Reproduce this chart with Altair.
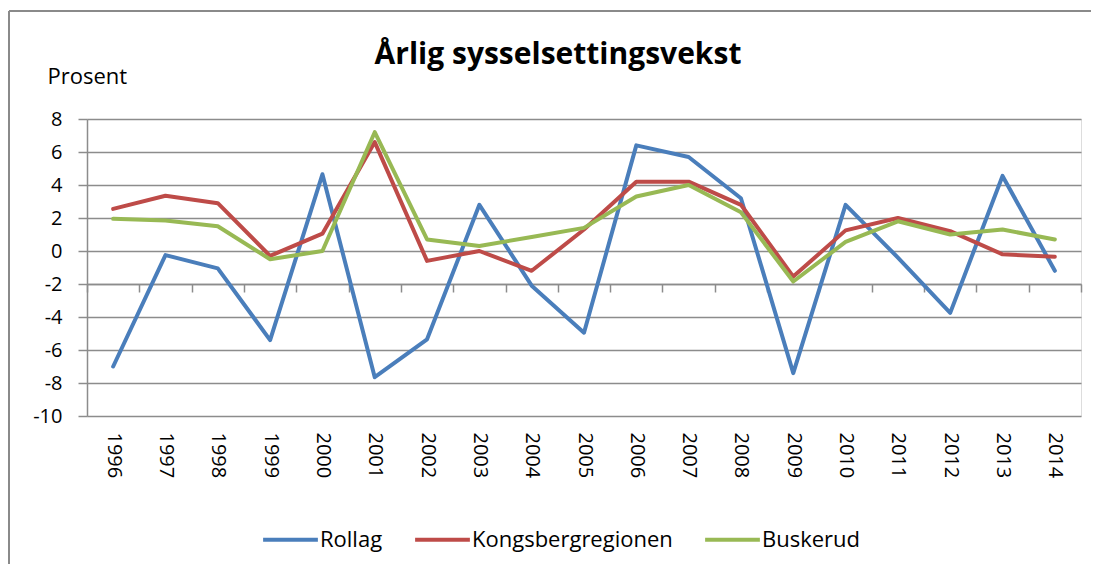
import altair as alt
import pandas as pd

title_text = "Årlig sysselsettingsvekst"
years = list(range(1996, 2015))
rollag = [-7.0, -0.25, -1.05, -5.4, 4.65, -7.65, -5.35, 2.8, -2.1, -4.95, 6.4, 5.7, 3.2, -7.4, 2.8, -0.4, -3.75, 4.55, -1.2]
kongsberg = [2.55, 3.35, 2.9, -0.3, 1.05, 6.6, -0.6, 0.0, -1.2, 1.3, 4.2, 4.2, 2.8, -1.55, 1.25, 2.0, 1.2, -0.2, -0.35]
buskerud = [1.95, 1.85, 1.5, -0.5, 0.0, 7.2, 0.7, 0.3, 0.85, 1.4, 3.3, 4.0, 2.35, -1.85, 0.55, 1.8, 1.0, 1.3, 0.7]
series = ["Rollag", "Kongsbergregionen", "Buskerud"]
colors = ["#4a7ebb", "#be4b48", "#98b954"]
y_ticks = list(range(-10, 9, 2))
boundaries = [y - 0.5 for y in years] + [years[-1] + 0.5]

rows = []
for name, vals in zip(series, [rollag, kongsberg, buskerud]):
    for yr, v in zip(years, vals):
        rows.append({"year": yr, "value": v, "series": name})
df = pd.DataFrame(rows)

FONT = "Open Sans"
GRID = "#8c8c8c"
W, H = 994, 297

xscale = alt.Scale(domain=[years[0] - 0.5, years[-1] + 0.5], nice=False, zero=False)
yscale = alt.Scale(domain=[-10, 8], nice=False, zero=False)

one = pd.DataFrame({"a": [0]})
frame_top = alt.Chart(one).mark_rule(stroke="#8a8a8a", strokeWidth=2).encode(
    x=alt.value(-78), x2=alt.value(1004), y=alt.value(-108))
frame_left = alt.Chart(one).mark_rule(stroke="#8a8a8a", strokeWidth=2).encode(
    x=alt.value(-78), y=alt.value(-108), y2=alt.value(460))
title = alt.Chart(one).mark_text(
    font=FONT, fontSize=30, fontWeight="bold", color="#000", align="center", baseline="alphabetic"
).encode(text=alt.value(title_text), x=alt.value(471), y=alt.value(-55))

zero_axis = alt.Chart(pd.DataFrame({"b": boundaries})).mark_point(opacity=0).encode(
    x=alt.X("b:Q", scale=xscale, axis=alt.Axis(
        orient="bottom", values=boundaries, labels=False, title=None, grid=False,
        domain=True, domainColor=GRID, domainWidth=1.5,
        ticks=True, tickColor=GRID, tickWidth=1.5, tickSize=8,
        offset=-(H - 10 * H / 18))),
)

lines = alt.Chart(df).mark_line(strokeWidth=4, strokeCap="round", strokeJoin="round").encode(
    x=alt.X("year:Q", scale=xscale, axis=alt.Axis(
        orient="bottom", values=years, format="d", labelAngle=90, labelFontSize=20, labelFont=FONT,
        labelColor="#000", labelPadding=16, ticks=False, domain=False, grid=False, title=None)),
    y=alt.Y("value:Q", scale=yscale, axis=alt.Axis(
        values=y_ticks, labelExpr="toString(datum.value)", labelFontSize=20, labelFont=FONT,
        labelColor="#000", labelPadding=16, tickSize=9, tickColor=GRID, tickWidth=1.5,
        domainColor=GRID, domainWidth=1.5, gridColor=GRID, gridWidth=1.5,
        title="Prosent", titleAngle=0, titleFont=FONT, titleFontSize=22,
        titleFontWeight="normal", titleColor="#000", titleAlign="left",
        titleBaseline="alphabetic", titleX=-40, titleY=-36)),
    color=alt.Color("series:N", sort=series,
                    scale=alt.Scale(domain=series, range=colors),
                    legend=alt.Legend(orient="none", legendX=174, legendY=391, direction="horizontal",
                                      title=None, symbolType="stroke", symbolSize=3000,
                                      symbolStrokeWidth=4, labelFont=FONT, labelFontSize=22,
                                      labelLimit=400, labelColor="#000", labelOffset=0,
                                      columnPadding=24)),
    order=alt.Order("year:Q"),
)

chart = alt.layer(frame_top, frame_left, title, zero_axis, lines).resolve_axis(x="independent").properties(
    width=W, height=H,
    autosize=alt.AutoSizeParams(type="none"),
    padding={"left": 79, "top": 111, "right": 10, "bottom": 148},
).configure_view(stroke=None).configure(background="white")

chart.save("out.html", embed_options={"renderer": "svg", "actions": False})
